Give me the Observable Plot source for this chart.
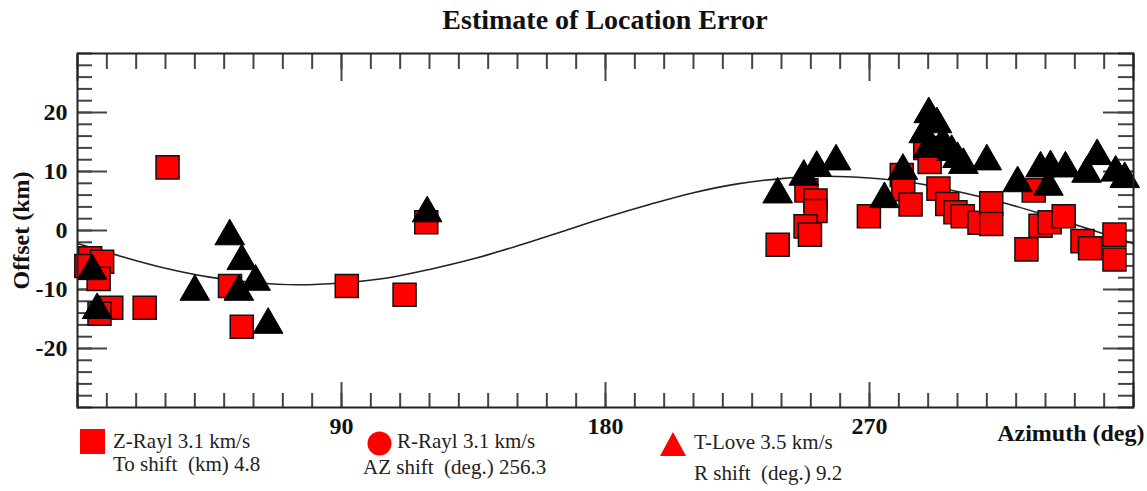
<!DOCTYPE html>
<html><head><meta charset="utf-8">
<script src="https://cdn.jsdelivr.net/npm/d3@7"></script>
<script src="https://cdn.jsdelivr.net/npm/@observablehq/plot@0.6"></script>
<style>
body{margin:0;background:#fff;font-family:"Liberation Serif","Times New Roman",serif;}
#wrap{position:relative;width:1147px;height:491px;overflow:hidden;background:#fff}
#title{position:absolute;left:77px;width:1056px;top:0;height:40px;line-height:40px;text-align:center;font-weight:bold;font-size:28px;color:#111}
#chart{position:absolute;left:0;top:40px}
.leg{position:absolute;font-size:21px;color:#222;white-space:nowrap;line-height:21px}
.sym{position:absolute}
</style></head><body>
<div id="wrap">
<div id="title">Estimate of Location Error</div>
<div id="chart"></div>
<div id="legend"></div>
</div>
<script>
// ---- data ----
const zRaylAz = [4.3,3.0,8.4,7.2,11.5,7.5,22.9,30.7,52.0,56.0,91.8,111.5,118.9,
  238.7,248.5,251.6,251.6,248.2,249.7,269.8,281.0,281.5,284.0,289.0,290.5,293.5,296.5,299.3,301.8,
  307.5,311.5,311.5,323.5,326.0,328.3,331.4,336.2,342.6,345.2,353.5,353.5];
const zRaylOffset = [-4.7,-6.0,-5.3,-8.2,-13.1,-14.1,-13.1,10.7,-9.4,-16.3,-9.4,-10.9,1.4,
  -2.4,6.8,5.1,3.3,0.7,-0.7,2.4,9.4,7.0,4.4,14.0,11.6,7.1,4.5,3.1,2.4,
  1.3,4.6,1.1,-3.2,6.8,0.8,1.4,2.4,-1.8,-3.0,-0.7,-4.9];

const tLoveAz = [5.0,6.7,40.0,51.9,56.0,55.0,60.7,65.0,119.2,
  238.7,247.6,252.0,258.6,275.1,281.4,290.2,293.0,288.5,295.0,290.0,298.0,300.0,302.0,310.0,
  320.5,328.3,331.0,331.7,336.8,344.0,347.6,353.9,357.0];
const tLoveOffset = [-6.2,-12.8,-9.7,-0.3,-4.5,-9.7,-8.0,-15.3,3.6,
  6.8,9.8,11.3,12.4,6.0,10.8,20.4,18.7,17.0,15.5,14.5,14.0,12.8,11.8,12.4,
  8.7,11.2,8.1,11.4,11.2,10.3,13.3,10.5,9.4];

const curveAz = [0,15,30,45,60,75,90,105,120,135,150,165,180,195,210,225,240,255,270,285,300,315,330,345,360];
const curveOffset = [-2.2,-4.4,-6.4,-7.9,-8.8,-9.2,-8.9,-8.1,-6.6,-4.8,-2.6,-0.2,2.2,4.4,6.4,7.9,8.8,9.2,8.9,8.1,6.6,4.8,2.6,0.2,-2.2];

const xMinorTicks = d3.range(0, 361, 10);
const xMajorTicks = [0, 90, 180, 270, 360];
const xTickLabels = [90, 180, 270];
const yMinorTicks = d3.range(-30, 31, 2);
const yMajorTicks = [-20, -10, 0, 10, 20];
const yTickLabels = [-20, -10, 0, 10, 20];

const legendNames = ["Z-Rayl 3.1 km/s", "R-Rayl 3.1 km/s", "T-Love 3.5 km/s"];
const legendShifts = ["To shift  (km) 4.8", "AZ shift  (deg.) 256.3", "R shift  (deg.) 9.2"];

const zData = zRaylAz.map((a, i) => ({az: a, off: zRaylOffset[i]}));
const tData = tLoveAz.map((a, i) => ({az: a, off: tLoveOffset[i]}));
const cData = curveAz.map((a, i) => ({az: a, off: curveOffset[i]}));

const tickStyle = {stroke: "#444", strokeWidth: 2, tickFormat: () => "", label: null};

const chart = Plot.plot({
  width: 1147, height: 451,
  marginTop: 13, marginBottom: 84, marginLeft: 77, marginRight: 14,
  x: {domain: [0, 360]},
  y: {domain: [-30, 30]},
  style: {fontFamily: "'Liberation Serif','Times New Roman',serif", fontSize: "24px", fontWeight: "bold", color: "#111", background: "white", overflow: "visible"},
  marks: [
    Plot.axisX(xMinorTicks, {anchor: "bottom", tickSize: -14, ...tickStyle}),
    Plot.axisX(xMajorTicks, {anchor: "bottom", tickSize: -25, ...tickStyle}),
    Plot.axisX(xMinorTicks, {anchor: "top", tickSize: -15, ...tickStyle}),
    Plot.axisX(xMajorTicks, {anchor: "top", tickSize: -27, ...tickStyle}),
    Plot.axisY(yMinorTicks, {anchor: "left", tickSize: -15, ...tickStyle}),
    Plot.axisY(yMajorTicks, {anchor: "left", tickSize: -30, ...tickStyle}),
    Plot.axisY(yMinorTicks, {anchor: "right", tickSize: -16, ...tickStyle}),
    Plot.axisY(yMajorTicks, {anchor: "right", tickSize: -31, ...tickStyle}),
    Plot.axisX(xTickLabels, {anchor: "bottom", tickSize: 0, tickPadding: 9, tickFormat: d => String(d),
      label: "Azimuth (deg)", labelAnchor: "right", labelOffset: 33, labelArrow: "none"}),
    Plot.axisY(yTickLabels, {anchor: "left", tickSize: 0, tickPadding: 10, tickFormat: d => String(d),
      label: "Offset (km)", labelAnchor: "center", labelOffset: 66, labelArrow: "none"}),
    Plot.line(cData, {x: "az", y: "off", curve: "catmull-rom", stroke: "#222", strokeWidth: 1.6}),
    Plot.dot(zData, {x: "az", y: "off", symbol: "square", r: 13, fill: "#ff0000", stroke: "#111", strokeWidth: 1.5}),
    Plot.dot(tData, {x: "az", y: "off", symbol: "triangle", r: 11, fill: "#000", stroke: "#000", strokeWidth: 1, dy: 4}),
    Plot.frame({stroke: "#222", strokeWidth: 2})
  ]
});
document.getElementById("chart").appendChild(chart);

// ---- legend (HTML below the plot area) ----
const leg = document.getElementById("legend");
const symbols = [
  {left: 80, top: 429, svg: '<svg width="25" height="25"><rect x="0" y="0" width="25" height="25" fill="#ff0000"/></svg>'},
  {left: 367, top: 431, svg: '<svg width="25" height="25"><circle cx="12.5" cy="12.5" r="12" fill="#ff0000"/></svg>'},
  {left: 660, top: 432, svg: '<svg width="26" height="24"><polygon points="13,0 26,24 0,24" fill="#ff0000"/></svg>'}
];
const namePos = [{left: 113, top: 431}, {left: 397, top: 431}, {left: 694, top: 432}];
const shiftPos = [{left: 113, top: 454}, {left: 363, top: 457}, {left: 694, top: 463}];
symbols.forEach((s, i) => {
  const d = document.createElement("div");
  d.className = "sym"; d.style.left = s.left + "px"; d.style.top = s.top + "px";
  d.innerHTML = s.svg; leg.appendChild(d);
  const n = document.createElement("div");
  n.className = "leg"; n.style.left = namePos[i].left + "px"; n.style.top = namePos[i].top + "px";
  n.textContent = legendNames[i]; leg.appendChild(n);
  const t = document.createElement("div");
  t.className = "leg"; t.style.left = shiftPos[i].left + "px"; t.style.top = shiftPos[i].top + "px";
  t.style.whiteSpace = "pre";
  t.textContent = legendShifts[i]; leg.appendChild(t);
});
</script>
</body></html>
